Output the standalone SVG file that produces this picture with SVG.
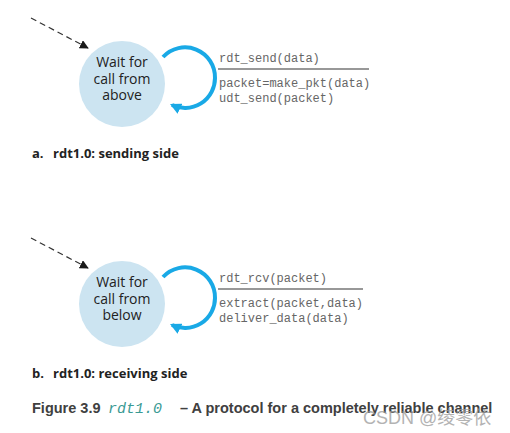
<svg xmlns="http://www.w3.org/2000/svg" width="510" height="433" viewBox="0 0 510 433">
<defs>
<marker id="blk" viewBox="0 0 10 10" refX="9" refY="5" markerWidth="9" markerHeight="9" markerUnits="userSpaceOnUse" orient="auto"><path d="M0,0 L10,5 L0,10 z" fill="#1a1a1a"/></marker>
<marker id="blu" viewBox="0 0 10 10" refX="8" refY="5" markerWidth="11" markerHeight="11" markerUnits="userSpaceOnUse" orient="auto"><path d="M0,0 L10,5 L0,10 z" fill="#19a9e6"/></marker>
</defs>
<style>
.state{fill:#cce4f1}
.sl{font-family:"Open Sans","Liberation Sans",sans-serif;font-size:14px;fill:#222;text-anchor:middle}
.code{font-family:"Liberation Mono",monospace;font-size:12px;fill:#666}
.bar{stroke:#333;stroke-width:1.2}
.dash{fill:none;stroke:#333;stroke-width:1.2;stroke-dasharray:6 4}
.loop{fill:none;stroke:#19a9e6;stroke-width:4}
.cap{font-family:"Open Sans","Liberation Sans",sans-serif;font-weight:bold;font-size:13px;fill:#222}
.fig{font-family:"Liberation Sans",Arial,sans-serif;font-weight:bold;font-size:14.5px;fill:#404040}
.figm{font-family:"Liberation Mono",monospace;font-style:italic;font-size:15px;fill:#3a9a94}
.wm{font-family:"Liberation Sans","Noto Sans CJK SC",sans-serif;font-size:18px;fill:#9a9a9a;opacity:0.75}
</style>
<g id="connectors">
<path class="dash" d="M31,18 L88,48" marker-end="url(#blk)"/>
<path class="loop" d="M163,57 A30,30 0 0 1 215,78 A30,30 0 0 1 172,105" marker-end="url(#blu)"/>
<path class="dash" d="M31,238 L88,268" marker-end="url(#blk)"/>
<path class="loop" d="M163,277 A30,30 0 0 1 215,298 A30,30 0 0 1 172,325" marker-end="url(#blu)"/>
</g>
<g id="sender">
<circle class="state" cx="122" cy="84" r="43"/>
<text class="sl" x="122" y="67">Wait for</text>
<text class="sl" x="122" y="83.5">call from</text>
<text class="sl" x="122" y="100">above</text>
</g>
<g id="sender-label">
<text class="code" x="219" y="62">rdt_send(data)</text>
<line class="bar" x1="218" y1="69" x2="369" y2="69"/>
<text class="code" x="219" y="87">packet=make_pkt(data)</text>
<text class="code" x="219" y="102">udt_send(packet)</text>
</g>
<g id="receiver">
<circle class="state" cx="122" cy="304" r="43"/>
<text class="sl" x="122" y="287">Wait for</text>
<text class="sl" x="122" y="303.5">call from</text>
<text class="sl" x="122" y="320">below</text>
</g>
<g id="receiver-label">
<text class="code" x="219" y="282">rdt_rcv(packet)</text>
<line class="bar" x1="218" y1="289" x2="363" y2="289"/>
<text class="code" x="219" y="307">extract(packet,data)</text>
<text class="code" x="219" y="322">deliver_data(data)</text>
</g>
<text class="cap" x="32" y="158">a.<tspan x="53">rdt1.0: sending side</tspan></text>
<text class="cap" x="32" y="378">b.<tspan x="53">rdt1.0: receiving side</tspan></text>
<text class="fig" x="32" y="413">Figure 3.9</text>
<text class="figm" x="108" y="413">rdt1.0</text>
<text class="fig" x="180" y="413">– A protocol for a completely reliable channel</text>
<text class="wm" x="363" y="424">CSDN @绫零依</text>
</svg>
